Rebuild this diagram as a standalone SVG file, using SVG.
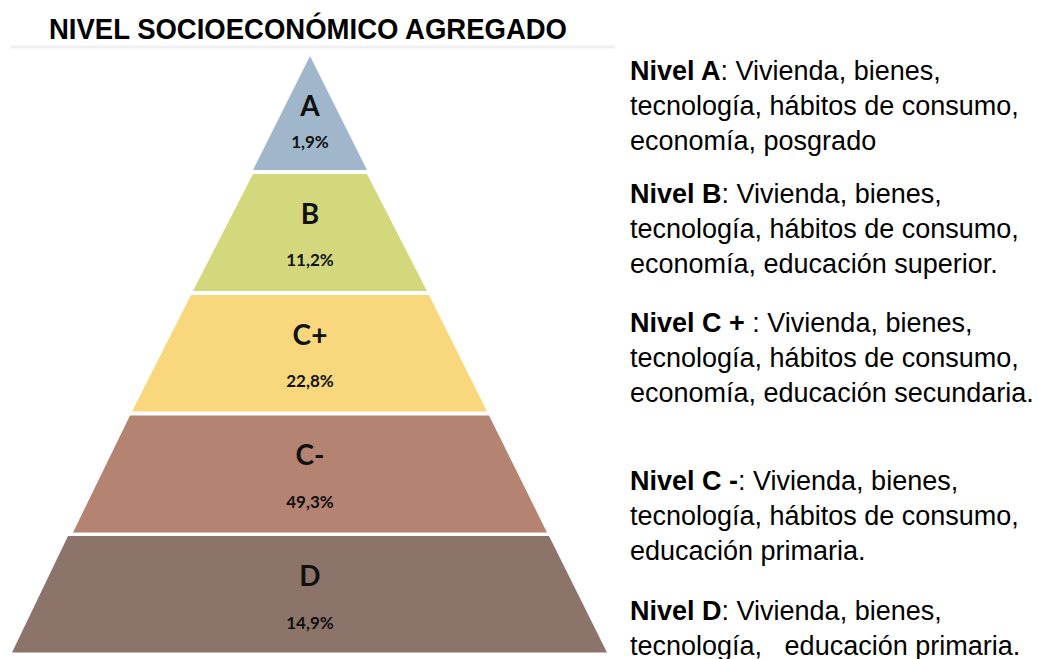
<svg xmlns="http://www.w3.org/2000/svg" width="1038" height="659" viewBox="0 0 1038 659">
<style>
.lvl{font-family:Lato,"Open Sans","Liberation Sans",sans-serif;font-weight:700;fill:#111;text-anchor:middle}
.big{font-size:28px}
.pct{font-size:17px}
.desc{font-family:"Liberation Sans",Arial,sans-serif;font-size:27px;fill:#000}
.b{font-weight:700}
</style>
<rect width="1038" height="659" fill="#ffffff"/>
<g id="title">
<line x1="10" y1="47" x2="615" y2="47" stroke="#f0f0f0" stroke-width="3"/>
<text x="49" y="39" font-family="Liberation Sans,Arial,sans-serif" font-weight="700" font-size="29" textLength="518" lengthAdjust="spacingAndGlyphs" fill="#000">NIVEL SOCIOECONÓMICO AGREGADO</text>
</g>
<g id="tier-A">
<polygon points="310,56 367,170 253,170" fill="#a0b6cb"/>
<text class="lvl big" x="310" y="116">A</text>
<text class="lvl pct" x="310" y="148">1,9%</text>
</g>
<g id="tier-B">
<polygon points="253,174 367,174 427,291 193,291" fill="#d3d87c"/>
<text class="lvl big" x="310" y="224">B</text>
<text class="lvl pct" x="310" y="266">11,2%</text>
</g>
<g id="tier-Cplus">
<polygon points="191,295 429,295 487,411.5 132,411.5" fill="#f9d77d"/>
<text class="lvl big" x="310" y="345">C+</text>
<text class="lvl pct" x="310" y="387">22,8%</text>
</g>
<g id="tier-Cminus">
<polygon points="130,415.5 489,415.5 547,532.5 73,532.5" fill="#b58371"/>
<text class="lvl big" x="310" y="465">C-</text>
<text class="lvl pct" x="310" y="508">49,3%</text>
</g>
<g id="tier-D">
<polygon points="68,536 549,536 607,652.5 12,652.5" fill="#8c746a"/>
<text class="lvl big" x="310" y="586">D</text>
<text class="lvl pct" x="310" y="629">14,9%</text>
</g>
<g id="desc-A">
<text class="desc" x="630" y="80"><tspan class="b">Nivel A</tspan>: Vivienda, bienes,</text>
<text class="desc" x="630" y="115">tecnología, hábitos de consumo,</text>
<text class="desc" x="630" y="150">economía, posgrado</text>
</g>
<g id="desc-B">
<text class="desc" x="630" y="203"><tspan class="b">Nivel B</tspan>: Vivienda, bienes,</text>
<text class="desc" x="630" y="238">tecnología, hábitos de consumo,</text>
<text class="desc" x="630" y="273">economía, educación superior.</text>
</g>
<g id="desc-Cplus">
<text class="desc" x="630" y="332"><tspan class="b">Nivel C +</tspan> : Vivienda, bienes,</text>
<text class="desc" x="630" y="367">tecnología, hábitos de consumo,</text>
<text class="desc" x="630" y="402">economía, educación secundaria.</text>
</g>
<g id="desc-Cminus">
<text class="desc" x="630" y="490"><tspan class="b">Nivel C -</tspan>: Vivienda, bienes,</text>
<text class="desc" x="630" y="525">tecnología, hábitos de consumo,</text>
<text class="desc" x="630" y="560">educación primaria.</text>
</g>
<g id="desc-D">
<text class="desc" x="630" y="620"><tspan class="b">Nivel D</tspan>: Vivienda, bienes,</text>
<text class="desc" x="630" y="655" xml:space="preserve">tecnología,   educación primaria.</text>
</g>
</svg>
